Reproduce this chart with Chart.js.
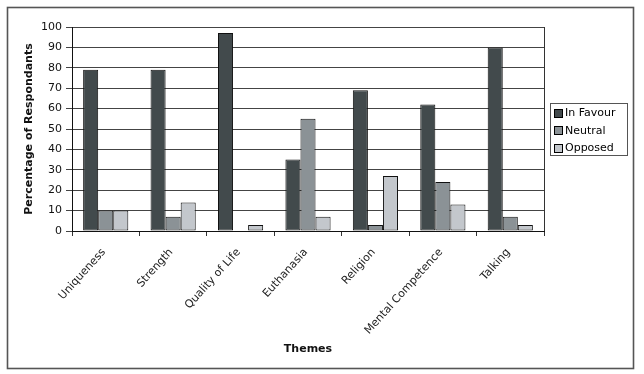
<!DOCTYPE html>
<html>
<head>
<meta charset="utf-8">
<script src="https://cdn.jsdelivr.net/npm/chart.js@4/dist/chart.umd.min.js"></script>
<style>
html,body{margin:0;padding:0;background:#fff;}
canvas{display:block;}
</style>
</head>
<body>
<canvas id="c" width="644" height="374"></canvas>
<script>
const categories = ["Uniqueness", "Strength", "Quality of Life", "Euthanasia", "Religion", "Mental Competence", "Talking"];
const inFavour = [79, 79, 97, 35, 69, 62, 90];
const neutral  = [10, 7, 0, 55, 3, 24, 7];
const opposed  = [10, 14, 3, 7, 27, 13, 3];
const seriesNames = ["In Favour", "Neutral", "Opposed"];
const yTicks = [0, 10, 20, 30, 40, 50, 60, 70, 80, 90, 100];

const colors = ["#424a4c", "#8b9296", "#c3c7cc"];
const FONT = "'DejaVu Sans', Verdana, sans-serif";

const framePlugin = {
  id: 'frame',
  afterDraw(chart) {
    const ctx = chart.ctx;
    const a = chart.chartArea;
    ctx.save();
    ctx.strokeStyle = '#555';
    ctx.lineWidth = 1.6;
    ctx.strokeRect(7.5, 7.5, 626, 361);
    ctx.strokeStyle = '#333';
    ctx.lineWidth = 1;
    ctx.beginPath();
    ctx.moveTo(Math.round(a.right) + 0.5, a.top);
    ctx.lineTo(Math.round(a.right) + 0.5, a.bottom);
    ctx.stroke();
    const lx = Math.round(a.right) + 6, lw = 77, lh = 52;
    const ly = Math.round((a.top + a.bottom) / 2 - lh / 2);
    ctx.strokeStyle = '#555';
    ctx.lineWidth = 1;
    ctx.strokeRect(lx + 0.5, ly + 0.5, lw, lh);
    ctx.font = "11px " + FONT;
    ctx.textBaseline = 'middle';
    ctx.textAlign = 'left';
    chart.data.datasets.forEach((ds, i) => {
      const cy = ly + 10 + i * 17.5;
      ctx.fillStyle = ds.backgroundColor;
      ctx.fillRect(lx + 4, Math.round(cy - 4.5), 9, 9);
      ctx.strokeStyle = '#000';
      ctx.strokeRect(lx + 4.5, Math.round(cy - 4.5) + 0.5, 8, 8);
      ctx.fillStyle = '#000';
      ctx.fillText(ds.label, lx + 15, cy + 0.5);
    });
    ctx.restore();
  }
};

new Chart(document.getElementById('c'), {
  type: 'bar',
  data: {
    labels: categories,
    datasets: [inFavour, neutral, opposed].map((d, i) => ({
      label: seriesNames[i],
      data: d,
      backgroundColor: colors[i],
      borderColor: '#111',
      borderWidth: 1,
      borderSkipped: false,
      categoryPercentage: 0.67,
      barPercentage: 1.0
    }))
  },
  options: {
    responsive: false,
    animation: false,
    devicePixelRatio: 1,
    layout: { padding: { left: 8, top: 27, right: 100, bottom: 10 } },
    plugins: { legend: { display: false }, tooltip: { enabled: false } },
    scales: {
      x: {
        afterFit(s) { s.height = 374 - 10 - 231; },
        grid: { display: true, drawOnChartArea: false, drawTicks: true, tickLength: 5, color: '#333', offset: true },
        border: { display: true, color: '#111', width: 1 },
        ticks: {
          font: { family: FONT, size: 11 },
          color: '#222',
          minRotation: 48, maxRotation: 48,
          autoSkip: false,
          labelOffset: -2,
          padding: 10
        },
        title: { display: true, text: 'Themes', font: { family: FONT, size: 11, weight: 'bold' }, color: '#111', padding: { top: 0, bottom: 8 } }
      },
      y: {
        min: 0, max: 100,
        afterFit(s) { s.width = 72 - 8; },
        afterBuildTicks(s) { s.ticks = yTicks.map(v => ({ value: v })); },
        grid: { color: '#444', lineWidth: 1, tickLength: 6, drawTicks: true },
        border: { display: true, color: '#111', width: 1 },
        ticks: { font: { family: FONT, size: 11 }, color: '#111', padding: 4 },
        title: { display: true, text: 'Percentage of Respondants', font: { family: FONT, size: 11, weight: 'bold' }, color: '#111', padding: { top: 15, bottom: 0 } }
      }
    }
  },
  plugins: [framePlugin]
});
</script>
</body>
</html>
